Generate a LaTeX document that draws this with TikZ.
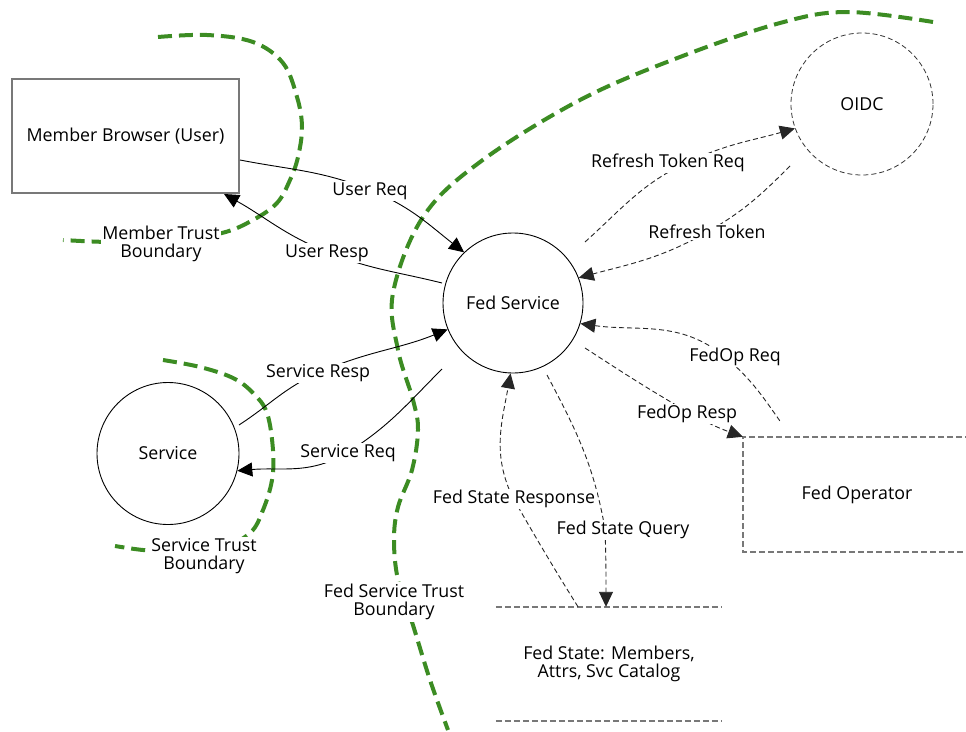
\documentclass[tikz,border=0pt]{standalone}
\usepackage{fontspec}
\setmainfont{Open Sans}
\usetikzlibrary{arrows.meta,calc}
\definecolor{trust}{RGB}{60,140,35}
\definecolor{edgegray}{RGB}{120,120,120}
\begin{document}
\begin{tikzpicture}[x=1pt,y=1pt,
  every node/.style={font=\fontsize{17.8}{18.6}\selectfont},
  box/.style={draw=edgegray, line width=2pt, minimum width=227pt, minimum height=114pt, inner sep=0pt},
  proc/.style={circle, draw=black, line width=0.9pt, minimum size=140pt, inner sep=0pt},
  ext/.style={circle, draw=black!80, line width=0.8pt, dash pattern=on 5pt off 3pt, minimum size=142pt, inner sep=0pt},
  storeline/.style={draw=edgegray, line width=2.4pt, dash pattern=on 6pt off 3pt},
  flow/.style={draw=black, line width=0.9pt, -{Triangle[length=15pt,width=14pt]}},
  dflow/.style={flow, draw=black!85, dash pattern=on 5pt off 3pt},
  lbl/.style={fill=white, inner sep=1.5pt, align=center},
  trustline/.style={draw=trust, line width=4pt, dash pattern=on 14pt off 7pt},
]
\useasboundingbox (0,0) rectangle (966,-731);

% trust boundaries
\draw[trustline] plot[smooth, tension=0.6] coordinates {
  (158,-37) (207,-35) (253,-42) (283,-63) (297,-97) (302,-127) (298,-157)
  (290,-180) (277,-203) (253,-220) (222,-233) (170,-241) (110,-242) (63,-240)};
\draw[trustline] plot[smooth, tension=0.6] coordinates {
  (163,-360) (200,-367) (233,-378) (253,-393) (267,-413) (273,-450) (272,-480)
  (263,-510) (250,-533) (220,-548) (170,-551) (143,-550) (115,-546)};
\draw[trustline] plot[smooth, tension=0.6] coordinates {
  (933,-22) (847,-12) (780,-23) (680,-57) (580,-100) (480,-162) (423,-217)
  (393,-293) (398,-350) (413,-400) (418,-430) (412,-470) (398,-507) (394,-540)
  (398,-580) (412,-622) (430,-680) (448,-730)};

% entities and processes
\node[box] (browser) at (125.5,-136) {Member Browser (User)};
\node[proc] (fed) at (513,-303) {Fed Service};
\node[ext] (oidc) at (862,-104) {OIDC};
\node[proc, minimum size=142pt] (svc) at (168,-453.5) {Service};
\node[minimum width=228pt, minimum height=115pt, inner sep=0pt] (fedop) at (857,-494.5) {Fed Operator};
\node[minimum width=226pt, minimum height=114pt, inner sep=0pt, align=center] (fstate) at (609,-664)
  {Fed State: Members,\\Attrs, Svc Catalog};
\draw[storeline] (fedop.north east) -- (fedop.north west) -- (fedop.south west) -- (fedop.south east);
\draw[storeline] (fstate.north west) -- (fstate.north east);
\draw[storeline] (fstate.south west) -- (fstate.south east);

% solid flows
\draw[flow] ([yshift=-24pt]browser.east) to[out=-11,in=158] (370,-190) to[out=-22,in=142] (fed.134);
\draw[flow] ($(fed.center)+(-71,20)$) to[out=166,in=-22] (327,-252) to[out=158,in=-29] ([xshift=-16pt]browser.south east);
\draw[flow] ($(svc.center)+(71,28.5)$) to[out=33,in=204] (318,-373) to[out=24,in=202] (fed.202);
\draw[flow] ($(fed.center)+(-71,-66)$) to[out=225,in=32] (348,-452) to[out=212,in=5] (svc.-14);

% dashed flows
\draw[dflow] ($(fed.center)+(72,61)$) to[out=42,in=205] (688,-162) to[out=25,in=196] (oidc.200);
\draw[dflow] ($(oidc.center)+(-72,-62)$) to[out=225,in=30] (709,-231) to[out=210,in=15] (fed.21);
\draw[dflow] ($(fedop.north west)+(37,16)$) to[out=125,in=-40] (725,-357) to[out=140,in=-8] (fed.-17);
\draw[dflow] ($(fed.center)+(72,-45)$) to[out=-33,in=150] (688,-412) to[out=-30,in=160] (fedop.north west);
\draw[dflow] ($(fstate.north)+(-31,0)$) to[out=122,in=-60] (513,-498) to[out=116,in=-100] (fed.268);
\draw[dflow] ($(fed.center)+(34,-72)$) to[out=-62,in=100] (605,-529) to[out=-88,in=90] ($(fstate.north)+(-3,0)$);

% flow labels
\node[lbl] (lureq) at (370,-191) {User Req};
\node[lbl] (luresp) at (327,-253) {User Resp};
\node[lbl] (lsresp) at (318,-373) {Service Resp};
\node[lbl] (lsreq) at (348,-453) {Service Req};
\node[lbl] (lrtreq) at (668,-163) {Refresh Token Req};
\node[lbl] (lrt) at (707,-232) {Refresh Token};
\node[lbl] (lforeq) at (735,-357) {FedOp Req};
\node[lbl] (lforesp) at (687,-414) {FedOp Resp};
\node[lbl] (lfsresp) at (514,-499) {Fed State Response};
\node[lbl] (lfsq) at (623,-530) {Fed State Query};

% boundary labels
\node[lbl] (lmember) at (161,-244) {Member Trust\\Boundary};
\node[lbl] (lservice) at (204,-556) {Service Trust\\Boundary};
\node[lbl] (lfedtrust) at (394,-602) {Fed Service Trust\\Boundary};
\end{tikzpicture}
\end{document}
